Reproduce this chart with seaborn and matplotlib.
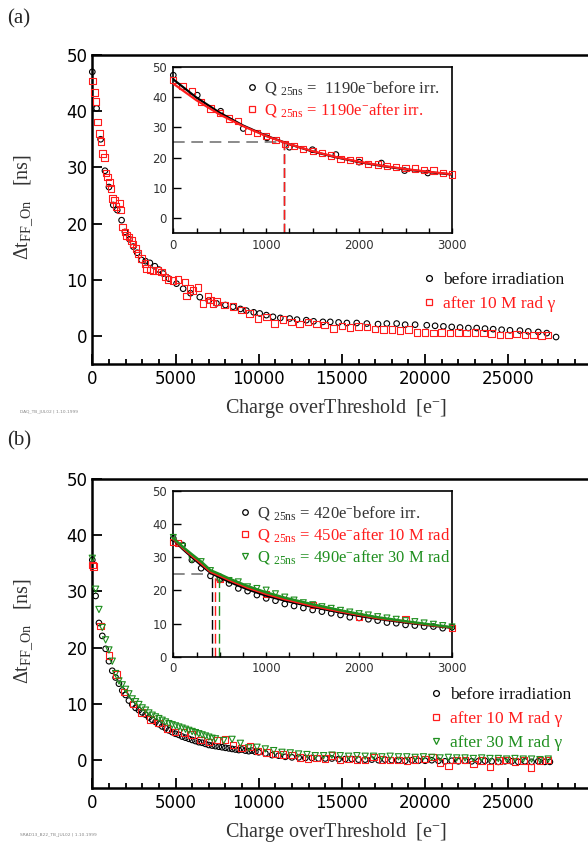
import matplotlib
matplotlib.use('Agg')
import matplotlib.pyplot as plt
import seaborn as sns
from matplotlib.lines import Line2D
from matplotlib.ticker import FixedLocator, MultipleLocator

# ------------------------------------------------------------------ data
# panel (a) main: charge over threshold [e-] vs delay [ns]
a_before_q = [0, 260, 500, 760, 1000, 1260, 1500, 1760, 1960, 2240, 2460, 2700, 2960, 3200, 3460,
              3760, 4000, 4260, 4600, 5060, 5460, 5900, 6460, 7000, 7460, 8000, 8460, 8900, 9260,
              9700, 10060, 10460, 10860, 11300, 11860, 12300, 12860, 13300, 13860, 14300, 14800,
              15300, 15890, 16500, 17170, 17700, 18290, 18800, 19400, 20100, 20600, 21100, 21600,
              22100, 22600, 23100, 23600, 24090, 24600, 25100, 25700, 26200, 26800, 27310, 27870]
a_before_t = [47.0, 40.5, 35.0, 29.4, 26.5, 23.3, 22.4, 20.6, 18.5, 17.2, 15.9, 14.8, 13.5, 13.3,
              13.0, 12.4, 11.8, 11.1, 10.2, 9.3, 8.4, 7.6, 6.9, 6.3, 5.8, 5.5, 5.2, 4.8, 4.5, 4.2,
              4.0, 3.7, 3.4, 3.2, 3.1, 2.9, 2.8, 2.6, 2.5, 2.5, 2.4, 2.3, 2.3, 2.2, 2.1, 2.2, 2.2,
              2.0, 2.0, 1.9, 1.8, 1.7, 1.6, 1.5, 1.4, 1.4, 1.3, 1.2, 1.1, 1.0, 0.95, 0.8, 0.7, 0.5,
              -0.2]
a_after_q = [0, 120, 220, 300, 420, 520, 620, 720, 820, 920, 1020, 1120, 1220, 1320, 1420, 1620,
             1700, 1820, 1960, 2060, 2220, 2360, 2460, 2620, 2760, 2960, 3160, 3260, 3460, 3660,
             3960, 4160, 4360, 4560, 4860, 5160, 5560, 5660, 5860, 6060, 6360, 6660, 6960, 7100,
             7260, 7460, 7960, 8460, 8960, 9460, 9960, 10460, 10960, 11460, 11960, 12460, 12960,
             13460, 13960, 14500, 15000, 15500, 16000, 16500, 17000, 17500, 18000, 18500, 19000,
             19500, 20000, 20500, 21000, 21500, 22000, 22500, 23000, 23500, 24000, 24500, 25000,
             25500, 26000, 26500, 27000, 27400]
a_after_t = [45.4, 43.3, 41.7, 38.1, 36.0, 34.6, 32.5, 31.8, 29.0, 28.3, 27.3, 26.2, 24.5, 24.2,
             23.0, 23.7, 22.4, 19.4, 18.5, 17.9, 17.6, 17.0, 16.4, 15.6, 14.7, 13.8, 12.9, 12.0,
             11.7, 11.6, 11.6, 11.4, 10.5, 10.0, 9.9, 10.0, 9.6, 7.1, 8.4, 8.1, 8.6, 5.8, 7.1, 6.4,
             5.8, 6.1, 5.5, 5.2, 4.6, 4.0, 3.1, 3.4, 2.2, 2.9, 2.5, 2.1, 2.5, 2.1, 1.9, 1.3, 1.8,
             1.5, 1.7, 1.6, 1.2, 1.1, 1.1, 1.0, 1.1, 0.6, 0.6, 0.5, 0.6, 0.5, 0.6, 0.5, 0.6, 0.5,
             0.4, 0.2, 0.2, 0.3, 0.2, 0.2, 0.1, 0.2]

# panel (a) inset
ia_before_q = [0, 258, 510, 753, 1008, 1250, 1498, 1750, 2000, 2240, 2490, 2740]
ia_before_t = [47.2, 40.6, 35.3, 29.6, 26.5, 23.4, 22.6, 21.0, 18.5, 18.2, 15.7, 14.9]
ia_after_q = [0, 100, 200, 300, 400, 500, 600, 700, 800, 900, 1000, 1100, 1200, 1300, 1400, 1500,
              1600, 1700, 1800, 1900, 2000, 2100, 2200, 2300, 2400, 2500, 2600, 2700, 2800, 2900,
              3000]
ia_after_t = [45.5, 43.6, 41.9, 38.4, 36.2, 34.8, 32.9, 32.0, 28.9, 28.1, 27.0, 25.9, 24.5, 23.7,
              22.9, 22.1, 21.5, 20.7, 19.6, 19.3, 19.0, 17.9, 17.7, 17.2, 16.9, 16.6, 16.4, 16.0,
              15.7, 14.9, 14.4]
fit_a_q = [0, 250, 500, 750, 1000, 1250, 1500, 1750, 2000, 2250, 2500, 2750, 3000]
fit_a_before = [45.8, 39.8, 34.8, 30.6, 27.2, 24.4, 22.0, 20.1, 18.5, 17.2, 16.1, 15.2, 14.4]
fit_a_after = [44.4, 38.9, 34.2, 30.4, 27.1, 24.4, 22.1, 20.2, 18.6, 17.3, 16.2, 15.3, 14.5]
q25_a = [1190, 1190]          # before, after irradiation
thr_ns = 25

# panel (b) main
b_before_q = [0, 200, 400, 600, 800, 1000, 1200, 1400, 1600, 1800, 2000, 2200, 2400, 2600, 2800,
              3000, 3200, 3400, 3600, 3800, 4000, 4200, 4400, 4600, 4800, 5000, 5200, 5400, 5600,
              5800, 6000, 6200, 6400, 6600, 6800, 7000, 7200, 7400, 7600, 7800, 8000, 8200, 8400,
              8600, 8800, 9000, 9200, 9400, 9600, 9800, 10000, 10400, 10800, 11200, 11600, 12000,
              12400, 12800, 13200, 13600, 14000, 14400, 14800, 15200, 15600, 16000, 16400, 16800,
              17200, 17600, 18000, 18400, 18800, 19200, 19600, 20000, 20400, 20800, 21200, 21600,
              22000, 22400, 22800, 23200, 23600, 24000, 24400, 24800, 25200, 25600, 26000, 26400,
              26800, 27200, 27500]
b_before_t = [35.6, 29.2, 24.4, 22.1, 19.8, 17.6, 15.9, 14.7, 13.6, 12.4, 11.6, 10.6, 9.9, 9.3,
              8.9, 8.5, 8.1, 7.6, 7.2, 6.8, 6.4, 6.0, 5.7, 5.3, 5.0, 4.7, 4.5, 4.2, 4.0, 3.8, 3.6,
              3.4, 3.2, 3.1, 2.9, 2.7, 2.6, 2.5, 2.4, 2.3, 2.2, 2.1, 2.0, 1.9, 1.8, 1.9, 1.7, 1.6,
              1.7, 1.5, 1.4,
              1.2, 0.9, 0.8, 0.6, 0.5, 0.5, 0.4, 0.4, 0.3, 0.3, 0.3, 0.2, 0.2, 0.2, 0.1, 0.1, 0.1,
              0.0, 0.1, 0.0, 0.0, -0.1, 0.0, -0.1, -0.1, 0.0, -0.1, -0.2, -0.1, -0.2, -0.1, -0.2,
              -0.2, -0.1, -0.2, -0.3, -0.2, -0.2, -0.3, -0.2, -0.3, -0.2, -0.3, -0.3]
b_10_q = [0, 60, 500, 1000, 1460, 1900, 2450, 2960, 3500, 3965, 4500, 4966, 5500, 5970, 6500,
          7019, 7500, 7970, 8470, 8970, 9470, 9970, 10470, 10970, 11470, 11970, 12470, 12970,
          13470, 13970, 14400, 14900, 15400, 15900, 16400, 16900, 17400, 17900, 18400, 18900,
          19400, 19950, 20460, 20900, 21400, 21900, 22400, 22900, 23400, 23900, 24400, 24900,
          25400, 25900, 26370, 26900, 27400]
b_10_t = [34.7, 34.4, 23.9, 18.6, 15.2, 12.1, 10.0, 8.5, 7.2, 6.6, 5.6, 5.0, 4.9, 4.6, 3.6, 3.2,
          3.6, 3.7, 2.7, 2.2, 2.4, 1.6, 1.4, 1.1, 1.0, 0.9, 0.5, 0.3, 0.4, 0.3, 0.8, 0.0, 0.2, 0.1,
          0.0, 0.6, 0.1, 0.0, 0.0, -0.1, 0.1, 0.2, 0.6, -0.4, -1.0, 0.0, 0.0, -0.7, -0.1, -1.2,
          -0.1, 0.0, -0.2, -0.1, -1.3, -0.1, 0.0]
b_30_q = [0, 200, 400, 600, 800, 1000, 1200, 1400, 1600, 1800, 2000, 2200, 2400, 2600, 2800, 3000,
          3200, 3400, 3600, 3800, 4000, 4200, 4400, 4600, 4800, 5000, 5200, 5400, 5600, 5800,
          6000, 6200, 6400, 6600, 6800, 7000, 7200, 7400,
          7900, 8400, 8900, 9400, 9900, 10400, 10900, 11400, 11900, 12400, 12900, 13400, 13900,
          14400, 14900, 15400, 15900, 16400, 16900, 17400, 17900, 18400, 18900, 19400, 19900,
          20400, 20900, 21400, 21900, 22400, 22900, 23400, 23900, 24400, 24900, 25400, 25900,
          26400, 26900, 27400]
b_30_t = [35.9, 30.4, 26.8, 23.6, 21.4, 19.6, 17.6, 15.4, 14.1, 13.4, 12.6, 11.8, 10.9, 10.4,
          9.9, 9.3, 8.9, 8.4, 8.0, 7.7, 7.4, 7.1, 6.8, 6.5, 6.3, 6.1, 5.9, 5.7, 5.5, 5.3, 5.1, 4.9,
          4.7, 4.5, 4.3, 4.1, 3.9, 3.8,
          3.5, 3.7, 3.0, 2.2, 2.3, 2.0, 1.7, 1.4, 1.3, 1.1, 1.0, 0.8, 0.8,
          0.9, 0.8, 0.7, 0.8, 0.7, 0.7, 0.6, 0.7, 0.6, 0.6, 0.5, 0.6, 0.5, 0.4, 0.5, 0.4, 0.4,
          0.3, 0.4, 0.3, 0.3, 0.2, 0.3, 0.2, 0.2, 0.1, 0.2]

# panel (b) inset
ib_q = [0, 100, 200, 300, 400, 500, 600, 700, 800, 900, 1000, 1100, 1200, 1300, 1400, 1500, 1600,
        1700, 1800, 1900, 2000, 2100, 2200, 2300, 2400, 2500, 2600, 2700, 2800, 2900, 3000]
ib_before_t = [35.7, 33.7, 29.2, 26.7, 24.4, 23.2, 22.1, 20.6, 19.8, 18.6, 17.6, 16.9, 15.9, 15.3,
               14.7, 14.1, 13.6, 13.1, 12.6, 11.9, 11.7, 11.3, 10.9, 10.3, 10.1, 9.6, 9.4, 9.1,
               9.1, 8.6, 8.9]
ib_30_t = [36.0, 33.3, 29.3, 28.7, 26.0, 23.1, 23.0, 22.6, 21.1, 20.6, 20.1, 19.0, 18.0, 17.1,
           16.3, 15.7, 15.1, 14.6, 14.0, 13.5, 13.0, 12.6, 12.1, 11.7, 11.3, 10.9, 10.6, 10.2,
           9.8, 9.4, 9.0]
ib_10_q = [0, 50, 500, 1000, 1500, 2000, 2500, 3000]
ib_10_t = [34.7, 34.2, 23.5, 19.0, 15.6, 12.1, 11.3, 8.6]
fit_b_q = [0, 100, 200, 300, 400, 500, 600, 800, 1000, 1200, 1500, 1800, 2000, 2200, 2500, 2800,
           3000]
fit_b_before = [35.3, 32.5, 30.0, 27.6, 25.3, 23.9, 22.6, 20.3, 18.4, 16.9, 15.0, 13.3, 12.3,
                11.4, 10.3, 9.3, 8.7]
fit_b_10 = [35.5, 32.8, 30.4, 28.1, 25.6, 24.4, 23.1, 20.8, 18.9, 17.3, 15.3, 13.6, 12.6, 11.6,
            10.5, 9.4, 8.8]
fit_b_30 = [35.8, 33.2, 30.9, 28.7, 26.1, 24.9, 23.6, 21.3, 19.4, 17.8, 15.8, 14.0, 12.9, 11.9,
            10.7, 9.6, 8.9]
q25_b = [420, 450, 490]       # before, 10 Mrad, 30 Mrad
thr_line_end = [1190, 550]

main_xticks = [0, 5000, 10000, 15000, 20000, 25000]
main_yticks = [0, 10, 20, 30, 40, 50]
inset_xticks = [0, 1000, 2000, 3000]

legend_main_a = ['before irradiation', 'after 10 M rad \u03b3']
legend_main_b = ['before irradiation', 'after 10 M rad \u03b3', 'after 30 M rad \u03b3']
legend_ins_a = [r'Q $_{\rm 25ns}$ =  1190e$^{-}$before irr.',
                r'Q $_{\rm 25ns}$ = 1190e$^{-}$after irr.']
legend_ins_b = [r'Q $_{\rm 25ns}$ = 420e$^{-}$before irr.',
                r'Q $_{\rm 25ns}$ = 450e$^{-}$after 10 M rad',
                r'Q $_{\rm 25ns}$ = 490e$^{-}$after 30 M rad']

# ------------------------------------------------------------------ style
sns.set_style('ticks')
plt.rcParams['font.family'] = ['DejaVu Sans']
plt.rcParams['mathtext.fontset'] = 'custom'
plt.rcParams['mathtext.rm'] = 'Liberation Serif'
plt.rcParams['mathtext.it'] = 'Liberation Serif:italic'
plt.rcParams['mathtext.bf'] = 'Liberation Serif:bold'
SERIF = ['Liberation Serif', 'DejaVu Serif']
BLACK = '#000000'
RED = '#ff1c1c'
GREEN = '#1f8f1f'
GRAY = '#333333'

W, H = 588, 843
fig = plt.figure(figsize=(W / 100, H / 100), dpi=100)


def fig_rect(x0, y0, x1, y1):
    return [x0 / W, 1 - y1 / H, (x1 - x0) / W, (y1 - y0) / H]


axA = fig.add_axes(fig_rect(92.3, 55, 591.5, 364))
axB = fig.add_axes(fig_rect(92.3, 479, 591.5, 788.3))
insA = fig.add_axes(fig_rect(173.3, 66.7, 452, 233.3))
insB = fig.add_axes(fig_rect(173.3, 491, 452, 656.7))


def pts(ax, x, y, marker, color, s, lw=0.8):
    sns.scatterplot(x=x, y=y, marker=marker, s=s, color=color, facecolor='none',
                    edgecolor=color, linewidth=lw, ax=ax, clip_on=False, legend=False, zorder=3)


def style_main(ax):
    ax.set_xlim(0, 30000)
    ax.set_ylim(-5, 50)
    ax.xaxis.set_major_locator(FixedLocator(main_xticks))
    ax.xaxis.set_minor_locator(MultipleLocator(1000))
    ax.yaxis.set_major_locator(FixedLocator(main_yticks))
    ax.tick_params(which='both', direction='in', width=1.3, colors='black', labelsize=12)
    ax.tick_params(which='major', length=7)
    ax.tick_params(which='minor', length=3.5)
    ax.tick_params(axis='x', pad=4)
    ax.tick_params(axis='y', pad=3.5)
    for sp in ax.spines.values():
        sp.set_linewidth(1.8)
        sp.set_color('black')
    ax.set_xlabel('Charge overThreshold  [e$^{-}$]', fontfamily=SERIF, fontsize=14.5, color=GRAY)
    ax.set_ylabel('\u0394t$_{\\rm FF\\_On}$   [ns]', fontfamily=SERIF, fontsize=14.5, color=GRAY)
    ax.xaxis.set_label_coords(0.488, -0.107)
    ax.yaxis.set_label_coords(-0.115, 0.508)


def style_inset(ax, ymin):
    ax.set_facecolor('white')
    ax.set_xlim(0, 3000)
    ax.set_ylim(ymin, 50)
    ax.xaxis.set_major_locator(FixedLocator(inset_xticks))
    ax.xaxis.set_minor_locator(MultipleLocator(250))
    ax.yaxis.set_major_locator(FixedLocator(main_yticks))
    ax.tick_params(which='both', direction='in', width=1.0, labelsize=8.5,
                   labelcolor=GRAY, color='black')
    ax.tick_params(axis='y', which='major', length=6, pad=4.5)
    ax.tick_params(axis='x', which='both', length=3.5, pad=4)
    for sp in ax.spines.values():
        sp.set_linewidth(1.2)
        sp.set_color('black')
    ax.set_xlabel('')
    ax.set_ylabel('')


def handle(marker, color, ms=4.2):
    return Line2D([], [], ls='none', marker=marker, ms=ms, mfc='none', mec=color, mew=0.9)


def add_legend(ax, handles, labels, colors, x_left, y_top, fs, spacing, pad):
    leg = ax.legend(handles, labels, loc='upper left', bbox_to_anchor=(x_left / W, 1 - y_top / H),
                    bbox_transform=fig.transFigure, frameon=False, borderpad=0, borderaxespad=0,
                    handlelength=0.8, handletextpad=pad, labelspacing=spacing,
                    prop={'family': SERIF, 'size': fs})
    for txt, c in zip(leg.get_texts(), colors):
        txt.set_color(c)
    return leg


# ------------------------------------------------------------------ panel (a)
pts(axA, a_before_q, a_before_t, 'o', BLACK, 16)
pts(axA, a_after_q, a_after_t, 's', RED, 22)
style_main(axA)
add_legend(axA, [handle('o', BLACK), handle('s', RED)], legend_main_a, ['#111111', RED],
           422, 272, 12.5, 0.44, 0.4)

pts(insA, ia_before_q, ia_before_t, 'o', BLACK, 16)
pts(insA, ia_after_q, ia_after_t, 's', RED, 20)
sns.lineplot(x=fit_a_q, y=fit_a_before, color=BLACK, lw=1.6, ax=insA, legend=False, zorder=4)
sns.lineplot(x=fit_a_q, y=fit_a_after, color=RED, lw=1.6, ax=insA, legend=False, zorder=4)
insA.hlines(thr_ns, 0, thr_line_end[0], colors='#777777', lw=1.2, linestyles=(0, (7, 4)), zorder=2)
insA.vlines(q25_a[0], -5, thr_ns, colors=BLACK, lw=1.0, linestyles=(0, (7, 3)), zorder=2)
insA.vlines(q25_a[1], -5, thr_ns, colors=RED, lw=1.0, linestyles=(0, (7, 3)), zorder=2)
style_inset(insA, -5)
add_legend(insA, [handle('o', BLACK, 4), handle('s', RED, 4)], legend_ins_a, [GRAY, RED],
           245.3, 79, 12, 0.24, 0.32)

# ------------------------------------------------------------------ panel (b)
pts(axB, b_before_q, b_before_t, 'o', BLACK, 16)
pts(axB, b_10_q, b_10_t, 's', RED, 22)
pts(axB, b_30_q, b_30_t, 'v', GREEN, 20)
style_main(axB)
add_legend(axB, [handle('o', BLACK), handle('s', RED), handle('v', GREEN)], legend_main_b,
           ['#111111', RED, GREEN], 429, 687, 12.5, 0.44, 0.4)

pts(insB, ib_q, ib_before_t, 'o', BLACK, 16)
pts(insB, ib_10_q, ib_10_t, 's', RED, 20)
pts(insB, ib_q, ib_30_t, 'v', GREEN, 18)
sns.lineplot(x=fit_b_q, y=fit_b_before, color=BLACK, lw=1.6, ax=insB, legend=False, zorder=4)
sns.lineplot(x=fit_b_q, y=fit_b_10, color=RED, lw=1.6, ax=insB, legend=False, zorder=4)
sns.lineplot(x=fit_b_q, y=fit_b_30, color=GREEN, lw=1.8, ax=insB, legend=False, zorder=4)
insB.hlines(thr_ns, 0, thr_line_end[1], colors='#777777', lw=1.2, linestyles=(0, (7, 4)), zorder=2)
for q, c in zip(q25_b, [BLACK, RED, GREEN]):
    insB.vlines(q, 0, thr_ns, colors=c, lw=1.0, linestyles=(0, (7, 3)), zorder=2)
style_inset(insB, 0)
add_legend(insB, [handle('o', BLACK, 4), handle('s', RED, 4), handle('v', GREEN, 4)],
           legend_ins_b, [GRAY, RED, GREEN], 238.3, 504, 12, 0.24, 0.32)

# ------------------------------------------------------------------ annotations
fig.text(19 / W, 1 - 19 / H, '(a)', fontfamily=SERIF, fontsize=15, ha='center', va='center')
fig.text(19 / W, 1 - 441 / H, '(b)', fontfamily=SERIF, fontsize=15, ha='center', va='center')
fig.text(20 / W, 1 - 412 / H, 'DAQ_TB_JUL02 | 1.10.1999', fontsize=3.2, color='#888888',
         va='center')
fig.text(20 / W, 1 - 835 / H, 'SRAD13_B22_TB_JUL02 | 1.10.1999', fontsize=3.2, color='#888888',
         va='center')

fig.savefig('out.png', dpi=100)
